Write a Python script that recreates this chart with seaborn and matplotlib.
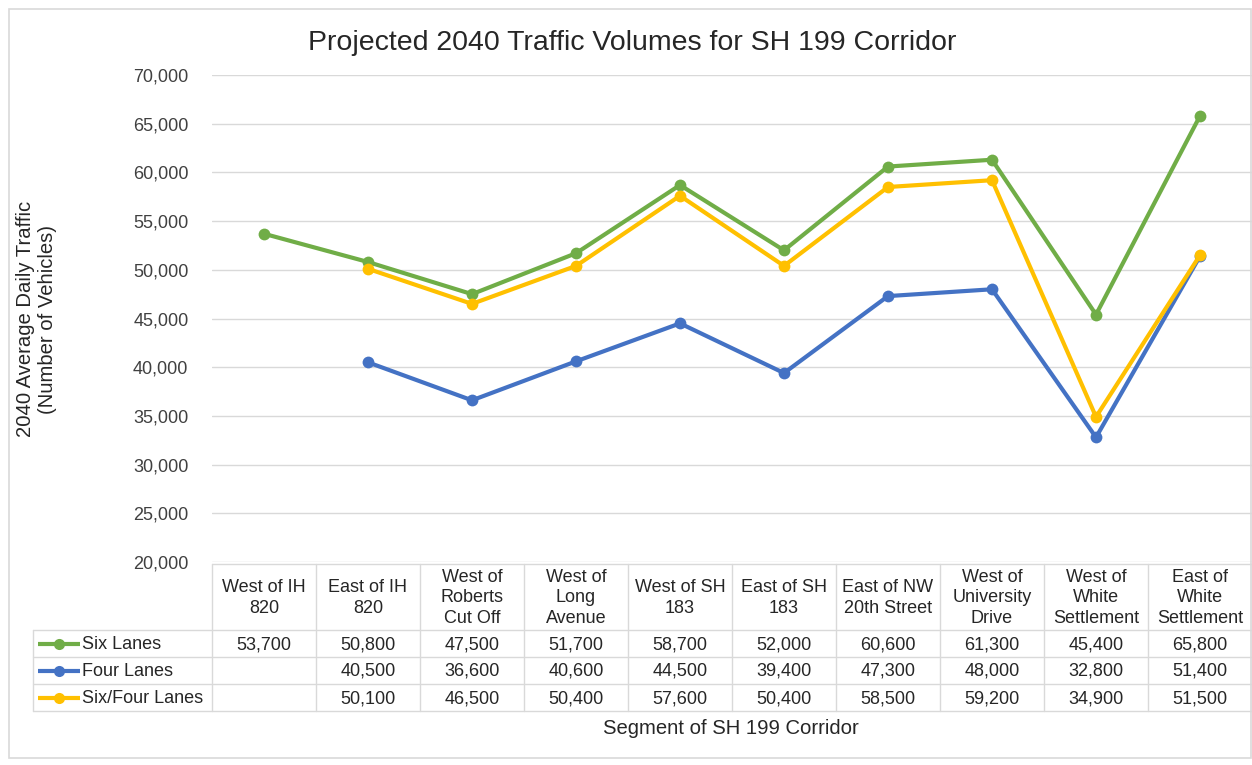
import numpy as np
import pandas as pd
import matplotlib
matplotlib.use("Agg")
import matplotlib.pyplot as plt
import seaborn as sns

# Corridor segments and projected 2040 volumes
segments = [
    "West of IH\n820", "East of IH\n820", "West of\nRoberts\nCut Off",
    "West of\nLong\nAvenue", "West of SH\n183", "East of SH\n183",
    "East of NW\n20th Street", "West of\nUniversity\nDrive",
    "West of\nWhite\nSettlement", "East of\nWhite\nSettlement",
]
six_lanes = [53700, 50800, 47500, 51700, 58700, 52000, 60600, 61300, 45400, 65800]
four_lanes = [np.nan, 40500, 36600, 40600, 44500, 39400, 47300, 48000, 32800, 51400]
six_four_lanes = [np.nan, 50100, 46500, 50400, 57600, 50400, 58500, 59200, 34900, 51500]

series_names = ["Six Lanes", "Four Lanes", "Six/Four Lanes"]
series_values = [six_lanes, four_lanes, six_four_lanes]
palette = {"Six Lanes": "#70AD47", "Four Lanes": "#4472C4", "Six/Four Lanes": "#FFC000"}

y_ticks = list(range(20000, 70001, 5000))

rows = []
for name, vals in zip(series_names, series_values):
    for i, v in enumerate(vals):
        rows.append({"pos": i, "volume": v, "series": name})
df = pd.DataFrame(rows)

sns.set_theme(style="white")
plt.rcParams["font.family"] = ["Liberation Sans", "DejaVu Sans"]

W, H = 1252, 765
fig = plt.figure(figsize=(W / 100, H / 100), dpi=100)
fig.patch.set_facecolor("white")

# Pixel-space overlay for border, table and labels
ov = fig.add_axes([0, 0, 1, 1], zorder=0)
ov.set_xlim(0, W)
ov.set_ylim(H, 0)
ov.axis("off")

# Plot area
x0, x1 = 212, 1252
y_top, y_bot = 75, 562
ax = fig.add_axes([x0 / W, 1 - y_bot / H, (x1 - x0) / W, (y_bot - y_top) / H], zorder=2)
ax.patch.set_alpha(0)

for v in y_ticks:
    ax.axhline(v, color="#D9D9D9", lw=1.0, zorder=0)

sns.lineplot(data=df, x="pos", y="volume", hue="series", palette=palette,
             hue_order=series_names, marker="o", markersize=8.5, markeredgewidth=0,
             linewidth=3, legend=False, ax=ax, sort=False)

ax.set_xlim(-0.5, len(segments) - 0.5)
ax.set_ylim(20000, 70000)
ax.set_yticks(y_ticks)
ax.set_yticklabels([f"{v:,}" for v in y_ticks], fontsize=13, color="#404040")
ax.tick_params(axis="y", length=0, pad=17)
ax.set_xticks([])
ax.set_xlabel("")
ax.set_ylabel("")
for s in ax.spines.values():
    s.set_visible(False)

# Outer chart border
ov.add_patch(plt.Rectangle((9, 9), 1242, 749, fill=False, ec="#D9D9D9", lw=1.2))

# Title and axis titles
ov.text(632, 43, "Projected 2040 Traffic Volumes for SH 199 Corridor",
        ha="center", va="center", fontsize=20.5, color="#262626")
ov.text(37, 319, "2040 Average Daily Traffic\n(Number of Vehicles)", rotation=90,
        ha="center", va="center", fontsize=14.6, color="#262626", linespacing=1.2)
ov.text(731, 728, "Segment of SH 199 Corridor", ha="center", va="center",
        fontsize=14.6, color="#262626")

# Data table below the plot
grid_c = "#D9D9D9"
col_w = (x1 - x0) / len(segments)
hdr_top, row_lines = 564, [630, 657, 684, 711]
leg_left = 33

ov.plot([x0, x1], [hdr_top, hdr_top], color=grid_c, lw=1)
for yl in row_lines:
    ov.plot([leg_left, x1], [yl, yl], color=grid_c, lw=1)
ov.plot([leg_left, leg_left], [row_lines[0], row_lines[-1]], color=grid_c, lw=1)
for k in range(len(segments) + 1):
    xl = x0 + k * col_w
    ov.plot([xl, xl], [hdr_top, row_lines[-1]], color=grid_c, lw=1)

for i, seg in enumerate(segments):
    cx = x0 + (i + 0.5) * col_w
    ov.text(cx, (hdr_top + row_lines[0]) / 2 + 1, seg, ha="center", va="center",
            fontsize=13, color="#262626", linespacing=1.25)

for r, (name, vals) in enumerate(zip(series_names, series_values)):
    cy = (row_lines[r] + row_lines[r + 1]) / 2
    col = palette[name]
    ov.plot([38, 80], [cy, cy], color=col, lw=3, solid_capstyle="butt")
    ov.plot([59], [cy], marker="o", ms=8, color=col, mew=0)
    ov.text(82, cy + 1, name, ha="left", va="center", fontsize=13, color="#262626")
    for i, v in enumerate(vals):
        if not np.isnan(v):
            ov.text(x0 + (i + 0.5) * col_w, cy + 1, f"{int(v):,}", ha="center",
                    va="center", fontsize=13, color="#262626")

fig.savefig("out.png", dpi=100, facecolor="white")
